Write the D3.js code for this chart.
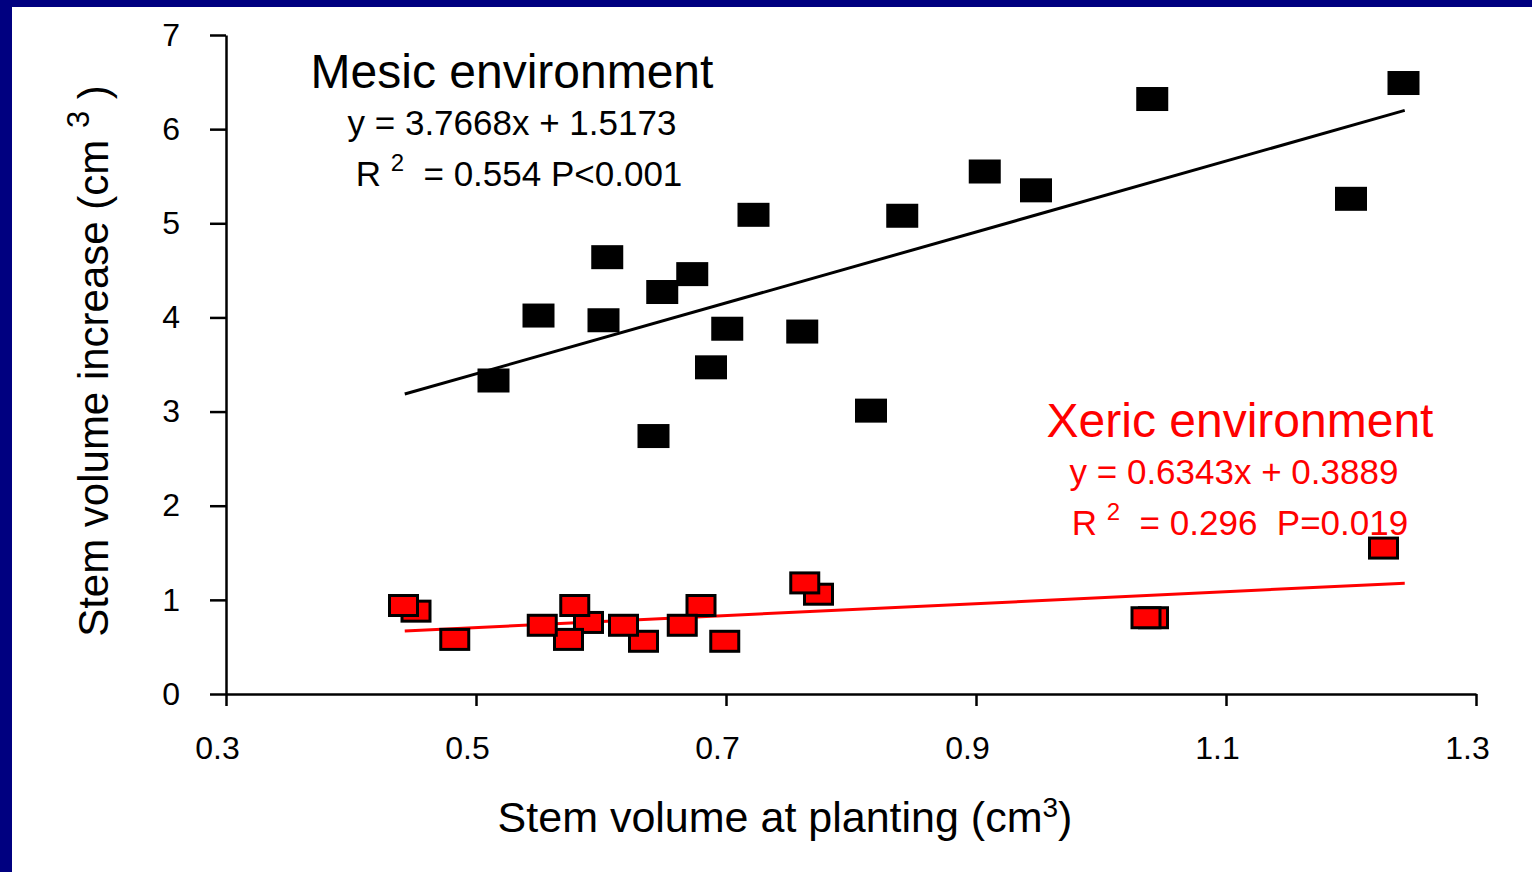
<!DOCTYPE html>
<html>
<head>
<meta charset="utf-8">
<script src="https://cdn.jsdelivr.net/npm/d3@7"></script>
<style>
  html, body { margin: 0; padding: 0; background: #fff; }
  svg { display: block; font-family: "Liberation Sans", Arial, sans-serif; }
  text { white-space: pre; }
</style>
</head>
<body>
<svg width="1532" height="872"></svg>
<script>
// mesic (black) points
const mesicX = [0.514, 0.550, 0.602, 0.605, 0.642, 0.649, 0.673, 0.688, 0.701, 0.722, 0.761, 0.816, 0.841, 0.907, 0.948, 1.041, 1.200, 1.242];
const mesicY = [3.33, 4.02, 3.97, 4.64, 2.74, 4.27, 4.46, 3.47, 3.88, 5.09, 3.85, 3.01, 5.08, 5.55, 5.35, 6.32, 5.26, 6.49];

// xeric (red) points
const xericX = [0.442, 0.452, 0.483, 0.553, 0.579, 0.574, 0.590, 0.618, 0.634, 0.665, 0.680, 0.699, 0.763, 0.774, 1.036, 1.042, 1.226];
const xericY = [0.94, 0.88, 0.58, 0.73, 0.94, 0.58, 0.76, 0.73, 0.56, 0.73, 0.94, 0.56, 1.18, 1.06, 0.81, 0.81, 1.55];

// regression lines: [slope, intercept], drawn over this x range
const mesicFit = [3.7668, 1.5173];
const xericFit = [0.6343, 0.3889];
const fitRange = [0.443, 1.243];

const xTicks = [0.3, 0.5, 0.7, 0.9, 1.1, 1.3];
const yTicks = [0, 1, 2, 3, 4, 5, 6, 7];

const svg = d3.select("svg");

// navy frame on left and top
svg.append("rect").attr("x", 0).attr("y", 0).attr("width", 1532).attr("height", 7).attr("fill", "#000080");
svg.append("rect").attr("x", 0).attr("y", 0).attr("width", 12).attr("height", 872).attr("fill", "#000080");

const x = d3.scaleLinear().domain([0.3, 1.3]).range([226, 1476]);
const y = d3.scaleLinear().domain([0, 7]).range([694, 35]);

// axes
const gx = svg.append("g")
  .attr("transform", "translate(0,694)")
  .call(d3.axisBottom(x).tickValues(xTicks).tickFormat(d3.format(".1f")).tickSize(12).tickSizeOuter(0).tickPadding(30));
const gy = svg.append("g")
  .attr("transform", "translate(226,0)")
  .call(d3.axisLeft(y).tickValues(yTicks).tickFormat(d3.format("d")).tickSize(16).tickSizeOuter(0).tickPadding(30));

[gx, gy].forEach(g => {
  g.select(".domain").attr("stroke", "#000").attr("stroke-width", 2.5);
  g.selectAll(".tick line").attr("stroke", "#000").attr("stroke-width", 2.5);
  g.selectAll(".tick text").attr("fill", "#000").style("font-size", "32px").style("font-family", "Liberation Sans, Arial, sans-serif");
});
// x labels sit a little left of their ticks
gx.selectAll(".tick text").attr("dx", -9);

// trend lines
const line = d3.line().x(d => x(d[0])).y(d => y(d[1]));
function fitPts(fit) {
  return fitRange.map(v => [v, fit[0] * v + fit[1]]);
}
svg.append("path").datum(fitPts(mesicFit)).attr("d", line)
  .attr("fill", "none").attr("stroke", "#000").attr("stroke-width", 3);
svg.append("path").datum(fitPts(xericFit)).attr("d", line)
  .attr("fill", "none").attr("stroke", "#ff0000").attr("stroke-width", 3);

// black squares
svg.selectAll("rect.mesic")
  .data(d3.zip(mesicX, mesicY))
  .enter()
  .append("rect")
  .attr("class", "mesic")
  .attr("x", d => x(d[0]) - 16)
  .attr("y", d => y(d[1]) - 12)
  .attr("width", 32)
  .attr("height", 24)
  .attr("fill", "#000");

// red squares (drawn in reverse so earlier ones sit on top)
svg.selectAll("rect.xeric")
  .data(d3.zip(xericX, xericY).reverse())
  .enter()
  .append("rect")
  .attr("class", "xeric")
  .attr("x", d => x(d[0]) - 14)
  .attr("y", d => y(d[1]) - 10)
  .attr("width", 28)
  .attr("height", 20)
  .attr("fill", "#ff0000")
  .attr("stroke", "#000")
  .attr("stroke-width", 3);

// annotations
function r2Text(cx, cy, color, rest) {
  const t = svg.append("text").attr("x", cx).attr("y", cy)
    .attr("text-anchor", "middle").attr("fill", color).style("font-size", "35px");
  t.append("tspan").text("R ");
  t.append("tspan").attr("dy", -15).style("font-size", "24px").text("2");
  t.append("tspan").attr("dy", 15).text(rest);
}

svg.append("text").attr("x", 512).attr("y", 88).attr("text-anchor", "middle")
  .attr("fill", "#000").style("font-size", "48px").text("Mesic environment");
svg.append("text").attr("x", 512).attr("y", 135).attr("text-anchor", "middle")
  .attr("fill", "#000").style("font-size", "35px").text("y = 3.7668x + 1.5173");
r2Text(519, 186, "#000", "  = 0.554 P<0.001");

svg.append("text").attr("x", 1240).attr("y", 437).attr("text-anchor", "middle")
  .attr("fill", "#ff0000").style("font-size", "48px").text("Xeric environment");
svg.append("text").attr("x", 1234).attr("y", 484).attr("text-anchor", "middle")
  .attr("fill", "#ff0000").style("font-size", "35px").text("y = 0.6343x + 0.3889");
r2Text(1240, 535, "#ff0000", "  = 0.296  P=0.019");

// axis titles
const xt = svg.append("text").attr("x", 785).attr("y", 832).attr("text-anchor", "middle")
  .attr("fill", "#000").style("font-size", "43px");
xt.append("tspan").text("Stem volume at planting (cm");
xt.append("tspan").attr("dy", -15).style("font-size", "28px").text("3");
xt.append("tspan").attr("dy", 15).text(")");

const yt = svg.append("text").attr("transform", "translate(108,361) rotate(-90)")
  .attr("text-anchor", "middle").attr("fill", "#000").style("font-size", "42px");
yt.append("tspan").text("Stem volume increase (cm ");
yt.append("tspan").attr("dy", -19).style("font-size", "31px").text("3");
yt.append("tspan").attr("dy", 19).text(" )");
</script>
</body>
</html>
